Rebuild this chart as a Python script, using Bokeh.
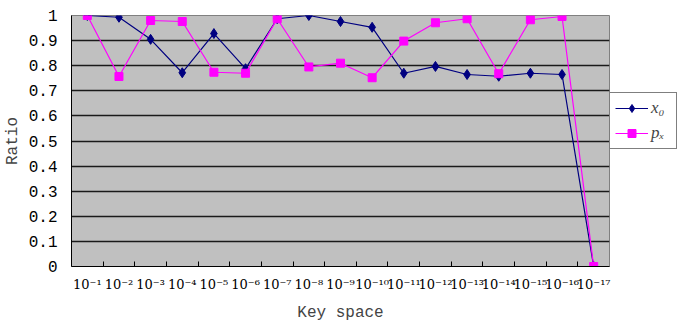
from bokeh.plotting import figure
from bokeh.models import FixedTicker, Legend, LegendItem, Range1d
from bokeh.embed import file_html
from bokeh.resources import INLINE

categories = ["10⁻¹", "10⁻²", "10⁻³", "10⁻⁴", "10⁻⁵", "10⁻⁶", "10⁻⁷", "10⁻⁸", "10⁻⁹",
              "10⁻¹⁰", "10⁻¹¹", "10⁻¹²", "10⁻¹³", "10⁻¹⁴", "10⁻¹⁵", "10⁻¹⁶", "10⁻¹⁷"]
x0_values = [1.0, 0.993, 0.905, 0.772, 0.928, 0.788, 0.987, 1.0, 0.976, 0.953,
             0.77, 0.797, 0.765, 0.758, 0.77, 0.765, 0.0]
px_values = [1.0, 0.757, 0.98, 0.976, 0.774, 0.77, 0.987, 0.795, 0.81, 0.752,
             0.898, 0.971, 0.987, 0.768, 0.983, 0.996, 0.0]
y_ticks = [0.0, 0.1, 0.2, 0.3, 0.4, 0.5, 0.6, 0.7, 0.8, 0.9, 1.0]
y_tick_labels = ["0", "0.1", "0.2", "0.3", "0.4", "0.5", "0.6", "0.7", "0.8", "0.9", "1"]

xs = list(range(1, len(categories) + 1))

p = figure(frame_width=538, frame_height=251, height=316,
           output_backend="svg", toolbar_location=None,
           x_range=Range1d(0.5, len(categories) + 0.5), y_range=Range1d(0, 1),
           min_border_left=63, min_border_top=15, min_border_bottom=10, min_border_right=0)

p.background_fill_color = "#c0c0c0"
p.border_fill_color = "white"
p.outline_line_color = "#808080"

p.xgrid.grid_line_color = None
p.ygrid.grid_line_color = "#1a1a1a"
p.ygrid.grid_line_width = 1.6

p.yaxis.ticker = FixedTicker(ticks=y_ticks)
p.yaxis.major_label_overrides = {t: l for t, l in zip(y_ticks, y_tick_labels)}
p.yaxis.major_tick_line_color = None
p.yaxis.minor_tick_line_color = None
p.yaxis.axis_line_color = "black"
p.yaxis.major_label_text_font = "Liberation Mono"
p.yaxis.major_label_text_font_size = "16px"
p.yaxis.major_label_text_color = "black"
p.yaxis.major_label_standoff = 8
p.yaxis.axis_label = "Ratio"
p.yaxis.axis_label_text_font = "Liberation Mono"
p.yaxis.axis_label_text_font_size = "16px"
p.yaxis.axis_label_text_font_style = "normal"
p.yaxis.axis_label_standoff = 4

p.xaxis.ticker = FixedTicker(ticks=xs, minor_ticks=[i + 0.5 for i in xs[:-1]])
p.xaxis.major_label_overrides = {x: c for x, c in zip(xs, categories)}
p.xaxis.major_tick_line_color = None
p.xaxis.minor_tick_line_color = "black"
p.xaxis.minor_tick_in = 5
p.xaxis.minor_tick_out = 0
p.xaxis.axis_line_color = "black"
p.xaxis.major_label_text_font = "DejaVu Serif"
p.xaxis.major_label_text_font_size = "13px"
p.xaxis.major_label_text_color = "black"
p.xaxis.major_label_standoff = 4
p.xaxis.axis_label = "Key space"
p.xaxis.axis_label_text_font = "Liberation Mono"
p.xaxis.axis_label_text_font_size = "16px"
p.xaxis.axis_label_text_font_style = "normal"
p.xaxis.axis_label_standoff = 9

navy = "#000080"
mag = "#ff00ff"
l1 = p.line(xs, x0_values, line_color=navy, line_width=1.2)
s1 = p.scatter(xs, x0_values, marker="diamond", size=10, color=navy)
l2 = p.line(xs, px_values, line_color=mag, line_width=1.2)
s2 = p.scatter(xs, px_values, marker="square", size=8, color=mag)

legend = Legend(items=[LegendItem(label="x₀", renderers=[l1, s1]),
                       LegendItem(label="pₓ", renderers=[l2, s2])],
                location=(0, 117))
legend.border_line_color = "black"
legend.border_line_width = 1
legend.background_fill_color = "white"
legend.label_text_font = "Liberation Serif"
legend.label_text_font_style = "italic"
legend.label_text_font_size = "17px"
legend.glyph_width = 33
legend.label_standoff = 3
legend.padding = 5
legend.spacing = 5
legend.margin = 5
p.add_layout(legend, "right")

open("out.html", "w").write(file_html(p, INLINE))
